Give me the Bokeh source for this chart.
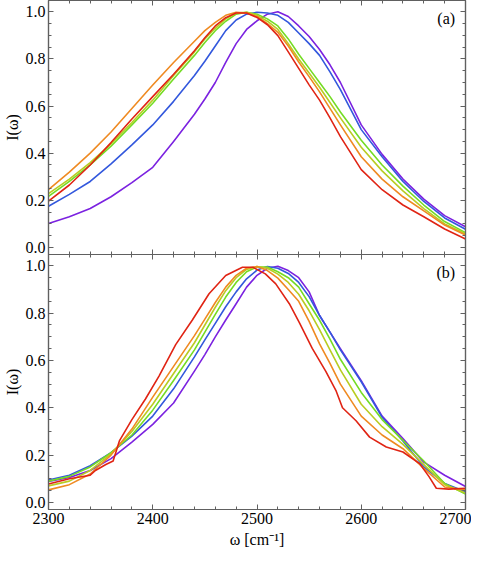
from bokeh.plotting import figure
from bokeh.layouts import column
from bokeh.models import LinearAxis, FixedTicker, Range1d, Label
from bokeh.embed import file_html
from bokeh.resources import INLINE

# ---- data ----
omega = [2300, 2320, 2340, 2360, 2380, 2400, 2420, 2440, 2450, 2460, 2470, 2480,
         2490, 2500, 2510, 2520, 2530, 2540, 2550, 2560, 2570, 2580, 2600, 2620,
         2640, 2660, 2680, 2700]

colors = ["#7b22e0", "#3358dd", "#74dc24", "#b9cc22", "#ef8a22", "#e02414"]

a_purple = [0.102, 0.13, 0.165, 0.215, 0.275, 0.34, 0.45, 0.565, 0.63, 0.70, 0.785,
            0.865, 0.925, 0.962, 0.99, 1.0, 0.98, 0.94, 0.895, 0.84, 0.775, 0.70,
            0.52, 0.395, 0.29, 0.205, 0.135, 0.088]
a_blue = [0.175, 0.225, 0.28, 0.355, 0.435, 0.52, 0.62, 0.73, 0.79, 0.855, 0.92,
          0.965, 0.99, 0.998, 0.995, 0.985, 0.955, 0.91, 0.865, 0.815, 0.745, 0.67,
          0.50, 0.385, 0.28, 0.195, 0.125, 0.077]
a_green = [0.217, 0.28, 0.35, 0.43, 0.52, 0.612, 0.715, 0.815, 0.87, 0.92, 0.96,
           0.99, 0.998, 0.99, 0.97, 0.94, 0.885, 0.82, 0.76, 0.70, 0.64, 0.575,
           0.455, 0.35, 0.26, 0.18, 0.11, 0.063]
a_yellow = [0.228, 0.29, 0.36, 0.44, 0.53, 0.625, 0.73, 0.83, 0.885, 0.93, 0.97,
            0.995, 0.998, 0.985, 0.96, 0.925, 0.865, 0.80, 0.74, 0.68, 0.615, 0.55,
            0.425, 0.325, 0.24, 0.165, 0.10, 0.058]
a_orange = [0.245, 0.32, 0.40, 0.49, 0.59, 0.689, 0.785, 0.875, 0.92, 0.955, 0.985,
            0.998, 0.995, 0.98, 0.95, 0.913, 0.855, 0.787, 0.725, 0.66, 0.59, 0.52,
            0.385, 0.29, 0.215, 0.155, 0.095, 0.053]
a_red = [0.197, 0.265, 0.35, 0.445, 0.545, 0.64, 0.735, 0.835, 0.89, 0.94, 0.975,
         0.995, 0.995, 0.976, 0.945, 0.899, 0.83, 0.76, 0.69, 0.625, 0.55, 0.47,
         0.33, 0.245, 0.18, 0.13, 0.078, 0.036]

b_purple = [0.088, 0.105, 0.135, 0.185, 0.255, 0.33, 0.42, 0.555, 0.625, 0.70, 0.771,
            0.84, 0.91, 0.96, 0.99, 0.998, 0.98, 0.95, 0.89, 0.79, 0.72, 0.65,
            0.515, 0.365, 0.27, 0.17, 0.115, 0.067]
b_blue = [0.095, 0.115, 0.155, 0.21, 0.28, 0.365, 0.48, 0.615, 0.687, 0.757, 0.827,
          0.89, 0.945, 0.982, 0.997, 0.99, 0.968, 0.93, 0.87, 0.79, 0.72, 0.645,
          0.51, 0.36, 0.26, 0.15, 0.08, 0.045]
b_green = [0.09, 0.11, 0.15, 0.21, 0.285, 0.39, 0.515, 0.645, 0.72, 0.795, 0.868,
           0.93, 0.975, 0.995, 0.995, 0.975, 0.95, 0.91, 0.84, 0.77, 0.69, 0.605,
           0.465, 0.35, 0.262, 0.175, 0.08, 0.035]
b_yellow = [0.07, 0.09, 0.135, 0.205, 0.30, 0.415, 0.545, 0.675, 0.75, 0.825, 0.895,
            0.95, 0.985, 0.997, 0.99, 0.965, 0.93, 0.88, 0.81, 0.73, 0.645, 0.56,
            0.415, 0.32, 0.245, 0.16, 0.075, 0.04]
b_orange = [0.053, 0.075, 0.12, 0.20, 0.31, 0.445, 0.575, 0.705, 0.775, 0.845, 0.91,
            0.96, 0.99, 0.997, 0.98, 0.948, 0.90, 0.85, 0.765, 0.67, 0.588, 0.50,
            0.365, 0.285, 0.227, 0.144, 0.065, 0.053]
b_red_omega = [2300, 2320, 2340, 2345, 2355, 2362, 2368, 2380, 2393, 2406, 2422, 2438,
               2454, 2470, 2486, 2496, 2508, 2518, 2531, 2541, 2553, 2566, 2576, 2582,
               2595, 2608, 2624, 2640, 2656, 2665, 2672, 2684, 2700]
b_red = [0.078, 0.10, 0.115, 0.135, 0.16, 0.175, 0.26, 0.35, 0.437, 0.534, 0.667, 0.771,
         0.882, 0.959, 0.994, 0.994, 0.966, 0.924, 0.84, 0.757, 0.651, 0.554, 0.47, 0.40,
         0.345, 0.276, 0.234, 0.213, 0.164, 0.109, 0.06, 0.056, 0.06]

x_major = [2300, 2400, 2500, 2600, 2700]
x_minor = [2320, 2340, 2360, 2380, 2420, 2440, 2460, 2480, 2520, 2540, 2560, 2580,
           2620, 2640, 2660, 2680]
y_major = [0.0, 0.2, 0.4, 0.6, 0.8, 1.0]
y_labels = ["0.0", "0.2", "0.4", "0.6", "0.8", "1.0"]
y_minor = [0.05, 0.1, 0.15, 0.25, 0.3, 0.35, 0.45, 0.5, 0.55, 0.65, 0.7, 0.75,
           0.85, 0.9, 0.95]

FONT = "Liberation Serif"
AX = "#606060"
FW = 417
LEFT = 38
OVERLAP = 12


def style_axis(ax, ticks, labels=None, size="16px"):
    ax.axis_line_color = AX
    ax.axis_line_width = 1.2
    ax.major_tick_line_color = AX
    ax.minor_tick_line_color = AX
    ax.major_tick_in = 5
    ax.major_tick_out = 0
    ax.minor_tick_in = 3
    ax.minor_tick_out = 0
    ax.major_label_text_font = FONT
    ax.major_label_text_font_size = size
    ax.axis_label_text_font = FONT
    ax.axis_label_text_font_style = "normal"
    ax.axis_label_text_color = "black"
    ax.axis_label_text_font_size = size
    if labels is None:
        ax.major_label_overrides = {t: "" for t in ticks}
        ax.major_label_text_color = None
        ax.major_label_standoff = 0
    else:
        ax.major_label_overrides = dict(zip(ticks, labels))
        ax.major_label_text_color = "black"
        ax.major_label_standoff = 3


def panel(series, tag, frame_h, bottom_labels):
    p = figure(frame_width=FW, frame_height=frame_h,
               x_range=Range1d(2300, 2700), y_range=Range1d(-0.03, 1.048),
               output_backend="svg", toolbar_location=None,
               x_axis_location=None, y_axis_location=None,
               min_border_left=LEFT, min_border_right=6,
               min_border_top=0, min_border_bottom=46 if bottom_labels else OVERLAP,
               background_fill_color="white", border_fill_color="white")
    p.grid.visible = False
    p.outline_line_color = AX
    p.outline_line_width = 1.2
    xt = FixedTicker(ticks=x_major, minor_ticks=x_minor)
    yt = FixedTicker(ticks=y_major, minor_ticks=y_minor)

    left = LinearAxis(ticker=yt)
    style_axis(left, y_major, y_labels)
    left.axis_label = "I(ω)"
    left.axis_label_standoff = 2
    p.add_layout(left, "left")

    right = LinearAxis(ticker=yt)
    style_axis(right, y_major)
    p.add_layout(right, "right")

    top = LinearAxis(ticker=xt)
    style_axis(top, x_major)
    p.add_layout(top, "above")

    bot = LinearAxis(ticker=xt)
    if bottom_labels:
        style_axis(bot, x_major, [str(v) for v in x_major])
        bot.axis_label = "ω [cm⁻¹]"
        bot.axis_label_standoff = 4
    else:
        style_axis(bot, x_major)
    p.add_layout(bot, "below")

    for (x, y), c in zip(series, colors):
        p.line(x, y, line_color=c, line_width=1.6, line_join="round")

    p.add_layout(Label(x=2690, y=0.97, text=tag, text_align="right",
                       text_baseline="middle", text_font=FONT,
                       text_font_size="16px", text_color="black"))
    return p


pa = panel([(omega, a_purple), (omega, a_blue), (omega, a_green),
            (omega, a_yellow), (omega, a_orange), (omega, a_red)],
           "(a)", 254, False)
pb = panel([(omega, b_purple), (omega, b_blue), (omega, b_green),
            (omega, b_yellow), (omega, b_orange), (b_red_omega, b_red)],
           "(b)", 255, True)
pb.margin = (-OVERLAP, 0, 0, 0)

layout = column(pa, pb, spacing=0)
open("out.html", "w").write(file_html(layout, INLINE))
